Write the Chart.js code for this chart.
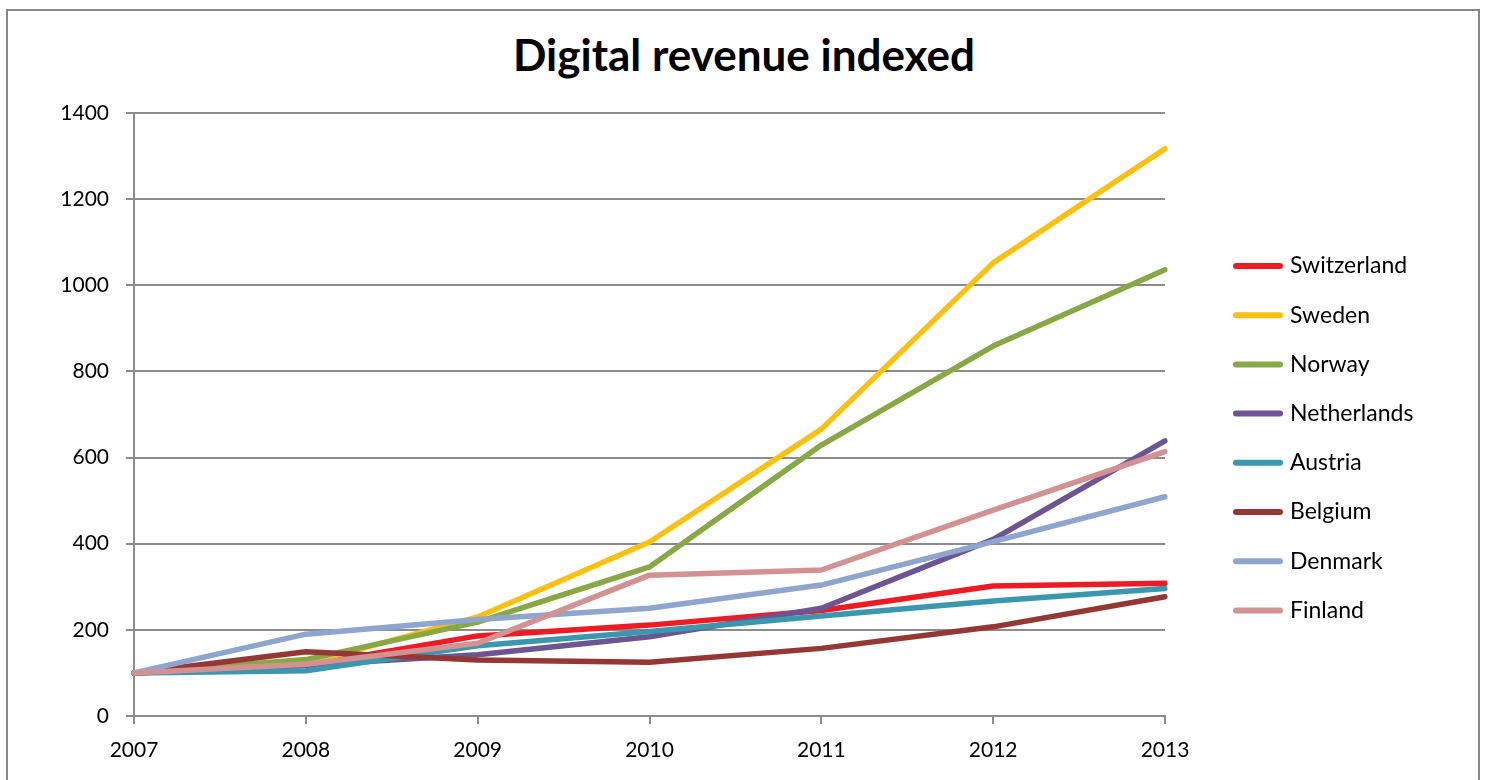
<!DOCTYPE html>
<html>
<head>
<meta charset="utf-8">
<title>Digital revenue indexed</title>
<script src="https://cdn.jsdelivr.net/npm/chart.js@4.4.0/dist/chart.umd.min.js"></script>
<style>
  body { margin: 0; background: #fff; overflow: hidden; }
  #frame { position: absolute; left: 6px; top: 9px; width: 1474px; height: 771px; border: 2px solid #878787; border-bottom: none; box-sizing: border-box; }
  #title { position: absolute; left: 0; top: 28px; width: 1488px; text-align: center; font: bold 44px Lato, sans-serif; line-height: 53px; color: #000; }
  #wrap { position: absolute; left: 0; top: 0; width: 1488px; height: 780px; }
</style>
</head>
<body>
<div id="frame"></div>
<div id="title">Digital revenue indexed</div>
<div id="wrap"><canvas id="revenueChart"></canvas></div>
<script>
// Years on the x axis
const years = ['2007', '2008', '2009', '2010', '2011', '2012', '2013'];

// Index values (2007 = 100)
const switzerland = [100, 118, 186, 211, 245, 302, 308];
const sweden      = [100, 121, 230, 404, 666, 1052, 1317];
const norway      = [100, 131, 218, 346, 629, 859, 1036];
const netherlands = [100, 118, 142, 184, 250, 410, 639];
const austria     = [100, 105, 163, 196, 232, 267, 296];
const belgium     = [100, 149, 130, 125, 157, 207, 277];
const denmark     = [100, 190, 224, 250, 304, 405, 509];
const finland     = [100, 120, 169, 327, 339, 478, 614];

const seriesNames  = ['Switzerland', 'Sweden', 'Norway', 'Netherlands', 'Austria', 'Belgium', 'Denmark', 'Finland'];
const seriesValues = [switzerland, sweden, norway, netherlands, austria, belgium, denmark, finland];
const seriesColors = ['#ED1C24', '#FCC010', '#88A745', '#6C5592', '#3A97AE', '#953735', '#8EA6CD', '#D29293'];

// y axis range
const yMin = 0;
const yMax = 1400;
const yStep = 200;

const axisGray = '#8c8c8c';

// Legend drawn at the right side, one row per series
const sideLegend = {
  id: 'sideLegend',
  afterDraw(chart) {
    const ctx = chart.ctx;
    ctx.save();
    ctx.font = '23px Lato, sans-serif';
    ctx.textBaseline = 'middle';
    ctx.fillStyle = '#000';
    ctx.lineWidth = 6;
    ctx.lineCap = 'round';
    chart.data.datasets.forEach((ds, i) => {
      const y = 266 + i * 49.2;
      ctx.strokeStyle = ds.borderColor;
      ctx.beginPath();
      ctx.moveTo(1236, y);
      ctx.lineTo(1280, y);
      ctx.stroke();
      ctx.fillText(ds.label, 1290, y);
    });
    ctx.restore();
  }
};

const datasets = seriesNames.map((name, i) => ({
  label: name,
  data: seriesValues[i],
  borderColor: seriesColors[i],
  backgroundColor: seriesColors[i],
  borderWidth: 5.5,
  borderJoinStyle: 'round',
  borderCapStyle: 'round',
  pointRadius: 0,
  tension: 0,
  order: seriesNames.length - i  // later series on top, like the original
}));

new Chart(document.getElementById('revenueChart'), {
  type: 'line',
  data: { labels: years, datasets: datasets },
  options: {
    responsive: true,
    maintainAspectRatio: false,
    animation: false,
    layout: { padding: { left: 0, right: 323, top: 113, bottom: 0 } },
    plugins: {
      legend: { display: false },
      title: { display: false },
      tooltip: { enabled: false }
    },
    scales: {
      x: {
        offset: false,
        grid: { drawOnChartArea: false, drawTicks: true, tickLength: 8, color: axisGray, lineWidth: 2 },
        border: { color: axisGray, width: 2 },
        ticks: { color: '#000', font: { family: 'Lato', size: 21 }, padding: 14, maxRotation: 0 },
        afterFit: s => { s.height = 64; }
      },
      y: {
        min: yMin,
        max: yMax,
        grid: { color: axisGray, lineWidth: 2, tickLength: 8 },
        border: { color: axisGray, width: 2 },
        ticks: { stepSize: yStep, color: '#000', font: { family: 'Lato', size: 21 }, padding: 17, callback: v => String(v) },
        afterFit: s => { s.width = 134; }
      }
    }
  },
  plugins: [sideLegend]
});
</script>
</body>
</html>
